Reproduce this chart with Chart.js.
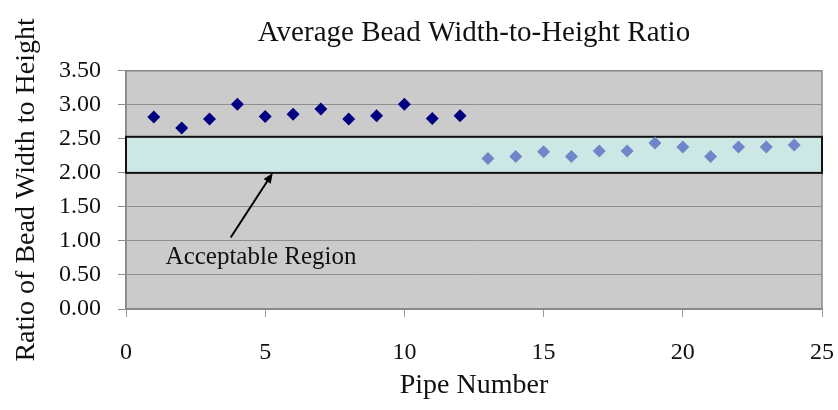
<!DOCTYPE html>
<html>
<head>
<meta charset="utf-8">
<script src="https://cdn.jsdelivr.net/npm/chart.js@4.4.0/dist/chart.umd.min.js"></script>
<style>
    html, body { margin: 0; padding: 0; background: #ffffff; }
    .chart-container { width: 838px; height: 410px; position: relative; }
</style>
</head>
<body>
<div class="chart-container">
    <canvas id="beadChart"></canvas>
</div>
<script>
// Pipes 1-12 (dark) and 13-24 (light)
const earlyPipes = [1, 2, 3, 4, 5, 6, 7, 8, 9, 10, 11, 12];
const earlyRatios = [2.82, 2.66, 2.79, 3.01, 2.83, 2.86, 2.94, 2.79, 2.84, 3.01, 2.80, 2.84];
const latePipes = [13, 14, 15, 16, 17, 18, 19, 20, 21, 22, 23, 24];
const lateRatios = [2.21, 2.24, 2.31, 2.24, 2.32, 2.32, 2.44, 2.38, 2.24, 2.38, 2.38, 2.41];

// Acceptable band and its callout
const regionLow = 2.0;
const regionHigh = 2.53;
const regionLabel = 'Acceptable Region';
const arrowFrom = [3.76, 1.05];
const arrowTo = [5.27, 2.0];
const labelAt = [4.85, 0.76];

const xMin = 0, xMax = 25, xStep = 5;
const yMin = 0, yMax = 3.5, yStep = 0.5;

const SERIF = '"Liberation Serif", "Times New Roman", serif';

function toPoints(xs, ys) {
    return xs.map((x, i) => ({ x: x, y: ys[i] }));
}

const plotDecor = {
    id: 'plotDecor',
    beforeDraw(chart) {
        const { ctx, chartArea: a } = chart;
        ctx.save();
        ctx.fillStyle = '#cbcbcb';
        ctx.fillRect(a.left, a.top, a.right - a.left, a.bottom - a.top);
        ctx.restore();
    },
    beforeDatasetsDraw(chart) {
        const { ctx, chartArea: a, scales } = chart;
        ctx.save();
        // plot frame
        ctx.strokeStyle = '#8a8a8a';
        ctx.lineWidth = 1.5;
        ctx.strokeRect(a.left, a.top, a.right - a.left, a.bottom - a.top);
        // acceptable region box
        const yTop = scales.y.getPixelForValue(regionHigh);
        const yBot = scales.y.getPixelForValue(regionLow);
        const xl = scales.x.getPixelForValue(xMin);
        const xr = scales.x.getPixelForValue(xMax);
        ctx.fillStyle = '#cde7e5';
        ctx.fillRect(xl, yTop, xr - xl, yBot - yTop);
        ctx.strokeStyle = '#111111';
        ctx.lineWidth = 2;
        ctx.strokeRect(xl, yTop, xr - xl, yBot - yTop);
        ctx.restore();
    },
    afterDatasetsDraw(chart) {
        const { ctx, scales } = chart;
        const x1 = scales.x.getPixelForValue(arrowFrom[0]);
        const y1 = scales.y.getPixelForValue(arrowFrom[1]);
        const x2 = scales.x.getPixelForValue(arrowTo[0]);
        const y2 = scales.y.getPixelForValue(arrowTo[1]);
        const ang = Math.atan2(y2 - y1, x2 - x1);
        const head = 11;
        ctx.save();
        ctx.strokeStyle = '#000000';
        ctx.fillStyle = '#000000';
        ctx.lineWidth = 2;
        ctx.beginPath();
        ctx.moveTo(x1, y1);
        ctx.lineTo(x2 - Math.cos(ang) * head * 0.8, y2 - Math.sin(ang) * head * 0.8);
        ctx.stroke();
        ctx.beginPath();
        ctx.moveTo(x2, y2);
        ctx.lineTo(x2 - head * Math.cos(ang - 0.4), y2 - head * Math.sin(ang - 0.4));
        ctx.lineTo(x2 - head * Math.cos(ang + 0.4), y2 - head * Math.sin(ang + 0.4));
        ctx.closePath();
        ctx.fill();
        // label
        ctx.font = '25px ' + SERIF;
        ctx.textAlign = 'center';
        ctx.textBaseline = 'middle';
        ctx.fillStyle = '#111111';
        ctx.fillText(regionLabel, scales.x.getPixelForValue(labelAt[0]), scales.y.getPixelForValue(labelAt[1]));
        ctx.restore();
    }
};

const ctx = document.getElementById('beadChart').getContext('2d');
new Chart(ctx, {
    type: 'scatter',
    data: {
        datasets: [{
            label: 'Pipes 1-12',
            data: toPoints(earlyPipes, earlyRatios),
            pointStyle: 'rectRot',
            pointRadius: 6.5,
            backgroundColor: '#000080',
            borderColor: '#000080',
            borderWidth: 0
        }, {
            label: 'Pipes 13-24',
            data: toPoints(latePipes, lateRatios),
            pointStyle: 'rectRot',
            pointRadius: 6.5,
            backgroundColor: '#6f86c8',
            borderColor: '#6f86c8',
            borderWidth: 0
        }]
    },
    options: {
        responsive: true,
        maintainAspectRatio: false,
        animation: false,
        layout: { padding: { left: 0, right: 16, top: 0, bottom: 0 } },
        plugins: {
            legend: { display: false },
            tooltip: { enabled: false },
            title: {
                display: true,
                text: 'Average Bead Width-to-Height Ratio',
                fullSize: false,
                color: '#111111',
                font: { family: SERIF, size: 29, weight: 'normal' },
                padding: { top: 16, bottom: 20 }
            }
        },
        scales: {
            x: {
                type: 'linear',
                min: xMin,
                max: xMax,
                afterFit(scale) {
                    scale.height = 101;
                    scale.paddingLeft = 0;
                    scale.paddingRight = 0;
                },
                ticks: {
                    stepSize: xStep,
                    color: '#111111',
                    padding: 21,
                    font: { family: SERIF, size: 24 }
                },
                grid: {
                    drawOnChartArea: false,
                    drawTicks: true,
                    tickLength: 8,
                    color: '#9a9a9a'
                },
                border: { display: true, color: '#8a8a8a', width: 2 },
                title: {
                    display: true,
                    text: 'Pipe Number',
                    color: '#111111',
                    font: { family: SERIF, size: 28 },
                    padding: { top: 0, bottom: 8 }
                }
            },
            y: {
                type: 'linear',
                min: yMin,
                max: yMax,
                afterFit(scale) {
                    scale.width = 126;
                    scale.paddingTop = 0;
                    scale.paddingBottom = 0;
                },
                ticks: {
                    stepSize: yStep,
                    color: '#111111',
                    padding: 17,
                    font: { family: SERIF, size: 24 },
                    callback: (v) => v.toFixed(2)
                },
                grid: {
                    color: '#8f8f8f',
                    lineWidth: 1,
                    tickLength: 8
                },
                border: { display: true, color: '#8a8a8a', width: 1.5 },
                title: {
                    display: true,
                    text: 'Ratio of Bead Width to Height',
                    color: '#111111',
                    font: { family: SERIF, size: 28 },
                    padding: { top: 10, bottom: 0 }
                }
            }
        }
    },
    plugins: [plotDecor]
});
</script>
</body>
</html>
